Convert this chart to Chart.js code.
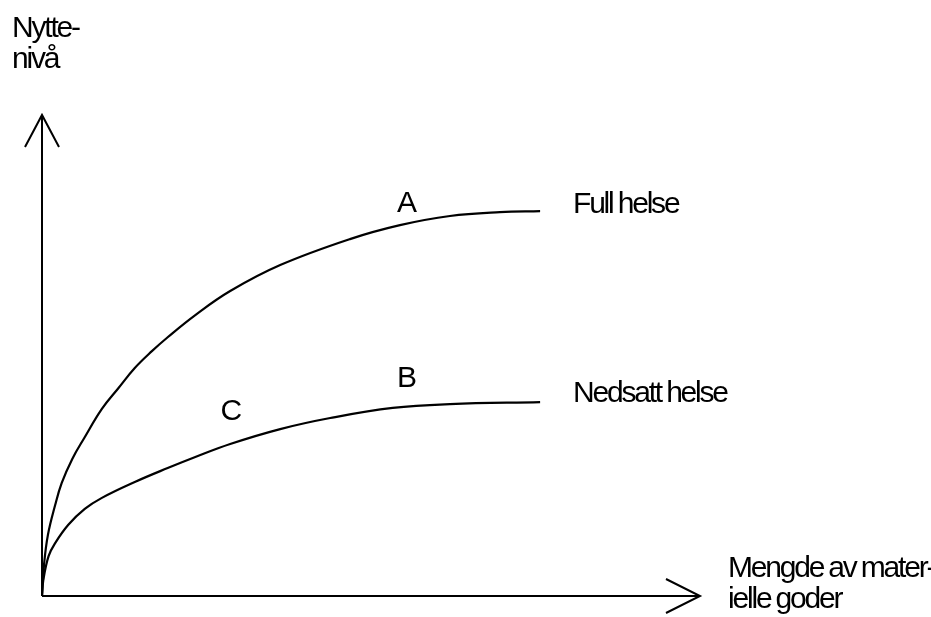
<!DOCTYPE html>
<html>
<head>
<meta charset="utf-8">
<script src="https://cdn.jsdelivr.net/npm/chart.js@4"></script>
<style>
  html, body { margin: 0; padding: 0; background: #fff; }
  #wrap { width: 931px; height: 617px; }
</style>
</head>
<body>
<div id="wrap"><canvas id="c" width="931" height="617"></canvas></div>
<script>
// Nyttenivå vs mengde av materielle goder — two concave utility curves.
// Units are arbitrary (0..10 on both axes).

const fullX = [0, 0.03, 0.09, 0.20, 0.30, 0.46, 0.64, 0.91, 1.16, 1.41, 1.67, 1.91, 2.33, 2.86, 3.62, 4.68, 5.44, 6.20, 6.96, 7.57];
const fullY = [0, 0.64, 1.27, 1.89, 2.35, 2.85, 3.28, 3.89, 4.32, 4.74, 5.09, 5.38, 5.84, 6.34, 6.88, 7.42, 7.71, 7.90, 7.98, 8.00];

const nedsattX = [0, 0.02, 0.10, 0.20, 0.40, 0.65, 0.91, 1.41, 1.91, 2.33, 2.86, 3.62, 4.38, 5.33, 6.20, 7.57];
const nedsattY = [0, 0.33, 0.83, 1.10, 1.48, 1.81, 2.04, 2.37, 2.66, 2.89, 3.16, 3.47, 3.70, 3.91, 3.99, 4.03];

const seriesNames = ['Full helse', 'Nedsatt helse'];
const pointLabels = ['A', 'B', 'C'];
const yTitle = ['Nytte-', 'nivå'];
const xTitle = ['Mengde av mater-', 'ielle goder'];

const zip = (xs, ys) => xs.map((x, i) => ({ x, y: ys[i] }));

const FONT = '30px "Liberation Sans", Arial, sans-serif';

// axes with open arrowheads + text annotations
const sketchPlugin = {
  id: 'sketch',
  afterDatasetsDraw(chart) {
    const { ctx, chartArea: a, scales: { x, y } } = chart;
    ctx.save();
    ctx.strokeStyle = '#000';
    ctx.lineWidth = 2;
    ctx.lineCap = 'butt';
    ctx.beginPath();
    ctx.moveTo(a.left, a.bottom);
    ctx.lineTo(a.left, a.top);
    ctx.moveTo(a.left, a.bottom);
    ctx.lineTo(a.right, a.bottom);
    // arrowheads
    ctx.moveTo(a.left - 17, a.top + 32);
    ctx.lineTo(a.left, a.top);
    ctx.lineTo(a.left + 17, a.top + 32);
    ctx.moveTo(a.right - 34, a.bottom - 17);
    ctx.lineTo(a.right, a.bottom);
    ctx.lineTo(a.right - 34, a.bottom + 17);
    ctx.stroke();

    ctx.fillStyle = '#000';
    ctx.font = FONT;
    ctx.letterSpacing = '-2.2px';
    ctx.wordSpacing = '-1px';
    ctx.textBaseline = 'alphabetic';

    // curve labels
    ctx.textAlign = 'center';
    const marks = [[5.53, 7.98], [5.53, 4.35], [2.86, 3.66]];
    pointLabels.forEach((t, i) => {
      ctx.fillText(t, x.getPixelForValue(marks[i][0]), y.getPixelForValue(marks[i][1]));
    });

    // series names at the curve ends
    ctx.textAlign = 'left';
    const ends = [[8.07, 7.96], [8.07, 4.03]];
    seriesNames.forEach((t, i) => {
      ctx.fillText(t, x.getPixelForValue(ends[i][0]), y.getPixelForValue(ends[i][1]));
    });

    // axis titles
    ctx.fillText(yTitle[0], 12, 37);
    ctx.fillText(yTitle[1], 12, 68);
    ctx.fillText(xTitle[0], a.right + 28, a.bottom - 19);
    ctx.fillText(xTitle[1], a.right + 28, a.bottom + 12);
    ctx.restore();
  },
};

const lineStyle = {
  borderColor: '#000',
  borderWidth: 2.2,
  pointRadius: 0,
  fill: false,
  tension: 0.4,
};

new Chart(document.getElementById('c'), {
  type: 'line',
  data: {
    datasets: [
      { label: seriesNames[0], data: zip(fullX, fullY), ...lineStyle },
      { label: seriesNames[1], data: zip(nedsattX, nedsattY), ...lineStyle },
    ],
  },
  options: {
    responsive: false,
    animation: false,
    layout: { padding: { left: 42, right: 231, top: 115, bottom: 21 } },
    plugins: { legend: { display: false }, tooltip: { enabled: false } },
    scales: {
      x: { type: 'linear', min: 0, max: 10, display: false },
      y: { type: 'linear', min: 0, max: 10, display: false },
    },
  },
  plugins: [sketchPlugin],
});
</script>
</body>
</html>
